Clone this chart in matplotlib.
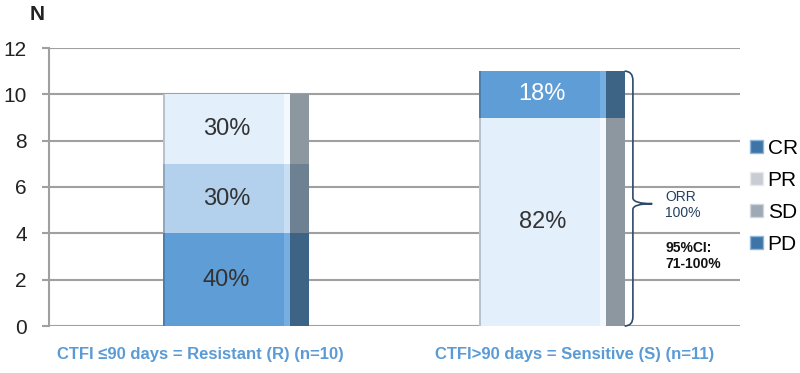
import matplotlib.pyplot as plt
from matplotlib.patches import Patch
from matplotlib.path import Path
from matplotlib.patches import PathPatch
import matplotlib.transforms as mtransforms

plt.rcParams['font.family'] = ['Liberation Sans', 'DejaVu Sans']

# data
group_labels = ['CTFI \u226490 days = Resistant (R) (n=10)',
                'CTFI>90 days = Sensitive (S) (n=11)']
resistant_counts = [4, 3, 3]
resistant_shades = ['dark', 'mid', 'light']
resistant_pct = ['40%', '30%', '30%']
sensitive_counts = [9, 2]
sensitive_shades = ['light', 'dark']
sensitive_pct = ['82%', '18%']
legend_labels = ['CR', 'PR', 'SD', 'PD']
yticks = [0, 2, 4, 6, 8, 10, 12]

front = {'dark': '#5E9DD6', 'mid': '#B3D1EC', 'light': '#E3EFFB'}
side = {'dark': '#3D6385', 'mid': '#6D8193', 'light': '#8D979F'}
shine = {'dark': '#74AEE3', 'mid': '#C7DEF3', 'light': '#F3F9FF'}

fig = plt.figure(figsize=(8, 3.73), dpi=100)
ax = fig.add_axes([49/800, 1-326/373, 691/800, 278/373])

xpos = [0.165, 0.622]
fw = 0.184
sw = 0.027

bars = [(resistant_counts, resistant_shades, resistant_pct),
        (sensitive_counts, sensitive_shades, sensitive_pct)]

for gi, (counts, shades, pcts) in enumerate(bars):
    x0 = xpos[gi]
    bottom = 0
    for c, s, p in zip(counts, shades, pcts):
        ax.bar(x0, c, width=fw, bottom=bottom, align='edge', color=front[s], zorder=3, lw=0)
        ax.bar(x0 + fw - 0.009, c, width=0.009, bottom=bottom, align='edge', color=shine[s], zorder=4, lw=0)
        ax.bar(x0, c, width=0.003, bottom=bottom, align='edge', color=side[s], alpha=0.5, zorder=4, lw=0)
        ax.bar(x0 + fw, c, width=sw, bottom=bottom, align='edge', color=side[s], zorder=3, lw=0)
        tc = 'white' if (s == 'dark' and gi == 1) else '#333333'
        ax.text(x0 + fw/2, bottom + c/2, p, ha='center', va='center', fontsize=17, color=tc, zorder=5)
        bottom += c

# brace on the sensitive bar
total = sum(sensitive_counts)
trans = mtransforms.blended_transform_factory(ax.transAxes, ax.transData)
xe, xb, xt = 0.833, 0.845, 0.873
ym = total * 0.48
verts = [(xe, total), (xb, total), (xb, total - 0.4),
         (xb, ym + 0.25), (xb, ym), (xt, ym),
         (xb, ym), (xb, ym - 0.25),
         (xb, 0.4), (xb, 0), (xe, 0)]
codes = [Path.MOVETO, Path.CURVE3, Path.CURVE3,
         Path.LINETO, Path.CURVE3, Path.CURVE3,
         Path.CURVE3, Path.CURVE3,
         Path.LINETO, Path.CURVE3, Path.CURVE3]
ax.add_patch(PathPatch(Path(verts, codes), transform=trans, fill=False,
                       edgecolor='#2E4A6B', lw=1.2, zorder=5, clip_on=False))

ax.set_xlim(0, 1)
ax.set_ylim(0, 12)
ax.set_yticks(yticks)
ax.set_xticks([])
ax.yaxis.grid(True, color='#A0A0A0', lw=1.5, zorder=0)
ax.set_axisbelow(True)
for sp in ['top', 'right', 'bottom']:
    ax.spines[sp].set_visible(False)
ax.spines['left'].set_color('#A0A0A0')
ax.spines['left'].set_linewidth(1.5)
ax.tick_params(axis='y', length=5, width=1.5, color='#A0A0A0', pad=11,
               labelsize=15, labelcolor='#222222')

fig.text(37/800, 1-14/373, 'N', fontsize=15, fontweight='bold', ha='center', va='center', color='#222222')

fig.text(200/800, 1-355/373, group_labels[0], fontsize=12, fontweight='bold',
         color='#5B9BD5', ha='center', va='center')
fig.text(575/800, 1-355/373, group_labels[1], fontsize=12, fontweight='bold',
         color='#5B9BD5', ha='center', va='center')

fig.text(665/800, 1-205/373, 'ORR\n100%', fontsize=10, color='#243F60', ha='left', va='center',
         linespacing=1.15)
fig.text(665/800, 1-256/373, '95%CI:\n71-100%', fontsize=10, fontweight='bold', color='#111111',
         ha='left', va='center', linespacing=1.15)

handles = [Patch(facecolor='#3F74A6', edgecolor='#8FB5DA'),
           Patch(facecolor='#C9CDD3', edgecolor='#E8EAEE'),
           Patch(facecolor='#9DA9B5', edgecolor='#D0D6DD'),
           Patch(facecolor='#3F74A6', edgecolor='#8FB5DA')]
fig.legend(handles, legend_labels, loc='upper left', bbox_to_anchor=(750/800, 1-139/373),
           frameon=False, fontsize=15, handlelength=0.6, handleheight=0.6,
           handletextpad=0.25, labelspacing=0.62, borderpad=0, borderaxespad=0)

fig.savefig('out.png', dpi=100)
